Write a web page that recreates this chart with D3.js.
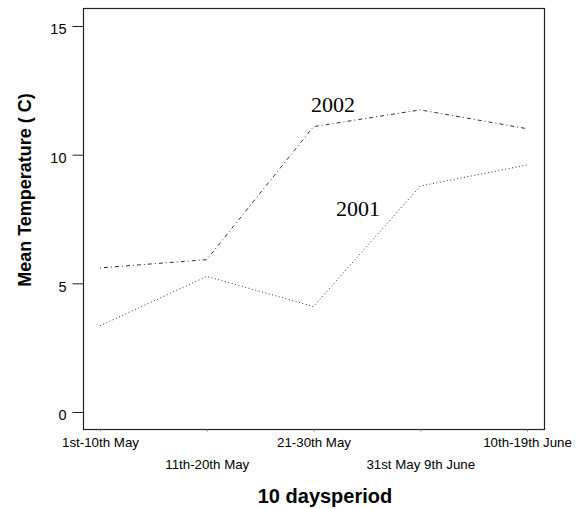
<!DOCTYPE html>
<html>
<head>
<meta charset="utf-8">
<script src="https://cdn.jsdelivr.net/npm/d3@7"></script>
<style>
body { margin: 0; background: #fff; }
</style>
</head>
<body>
<div id="chart-area"></div>
<script>
var periods = ["1st-10th May", "11th-20th May", "21-30th May", "31st May 9th June", "10th-19th June"];
var temp2001 = [3.35, 5.27, 4.1, 8.78, 9.6];
var temp2002 = [5.6, 5.92, 11.09, 11.74, 11.01];
var yTicks = [0, 5, 10, 15];

var width = 577;
var height = 509;

var svg = d3.select("#chart-area").append("svg")
	.attr("width", width)
	.attr("height", height);

var x = d3.scalePoint()
	.domain(periods)
	.range([100, 527]);

var y = d3.scaleLinear()
	.domain([0, 15])
	.range([412, 26]);

// plot box
svg.append("rect")
	.attr("x", 83.5)
	.attr("y", 8.5)
	.attr("width", 461)
	.attr("height", 421)
	.attr("fill", "none")
	.attr("stroke", "#222")
	.attr("stroke-width", 1.2);

var leftAxis = d3.axisLeft(y)
	.tickValues(yTicks)
	.tickSize(11)
	.tickPadding(6);
var gy = svg.append("g")
	.attr("transform", "translate(83.5,0)")
	.call(leftAxis);
gy.select(".domain").remove();
gy.selectAll("line").attr("stroke", "#222");
gy.selectAll("text")
	.attr("font-family", "Liberation Sans, Arial, sans-serif")
	.attr("font-size", "14.5px")
	.attr("fill", "#000")
	.attr("dy", "0.55em");

var bottomAxis = d3.axisBottom(x)
	.tickSize(2)
	.tickPadding(6);
var gx = svg.append("g")
	.attr("transform", "translate(0,429.5)")
	.call(bottomAxis);
gx.select(".domain").remove();
gx.selectAll("line").attr("stroke", "#888");
gx.selectAll("text")
	.attr("font-family", "Liberation Sans, Arial, sans-serif")
	.attr("font-size", "13.3px")
	.attr("fill", "#000")
	.attr("y", (d, i) => i % 2 == 0 ? 8 : 30);

var line = d3.line()
	.x((d, i) => x(periods[i]))
	.y((d) => y(d));

svg.append("path")
	.datum(temp2002)
	.attr("d", line)
	.attr("fill", "none")
	.attr("stroke", "#333")
	.attr("stroke-width", 1)
	.attr("stroke-dasharray", "1,3,4,3");

svg.append("path")
	.datum(temp2001)
	.attr("d", line)
	.attr("fill", "none")
	.attr("stroke", "#333")
	.attr("stroke-width", 1)
	.attr("stroke-dasharray", "1,2.5");

svg.append("text")
	.attr("x", 333)
	.attr("y", 112)
	.attr("text-anchor", "middle")
	.attr("font-family", "Liberation Serif, Times New Roman, serif")
	.attr("font-size", "22px")
	.text("2002");

svg.append("text")
	.attr("x", 358)
	.attr("y", 216)
	.attr("text-anchor", "middle")
	.attr("font-family", "Liberation Serif, Times New Roman, serif")
	.attr("font-size", "22px")
	.text("2001");

svg.append("text")
	.attr("x", 325)
	.attr("y", 503)
	.attr("text-anchor", "middle")
	.attr("font-family", "Liberation Sans, Arial, sans-serif")
	.attr("font-weight", "bold")
	.attr("font-size", "20px")
	.text("10 daysperiod");

svg.append("text")
	.attr("transform", "translate(31,190) rotate(-90)")
	.attr("text-anchor", "middle")
	.attr("font-family", "Liberation Sans, Arial, sans-serif")
	.attr("font-weight", "bold")
	.attr("font-size", "18px")
	.text("Mean Temperature ( C)");
</script>
</body>
</html>
